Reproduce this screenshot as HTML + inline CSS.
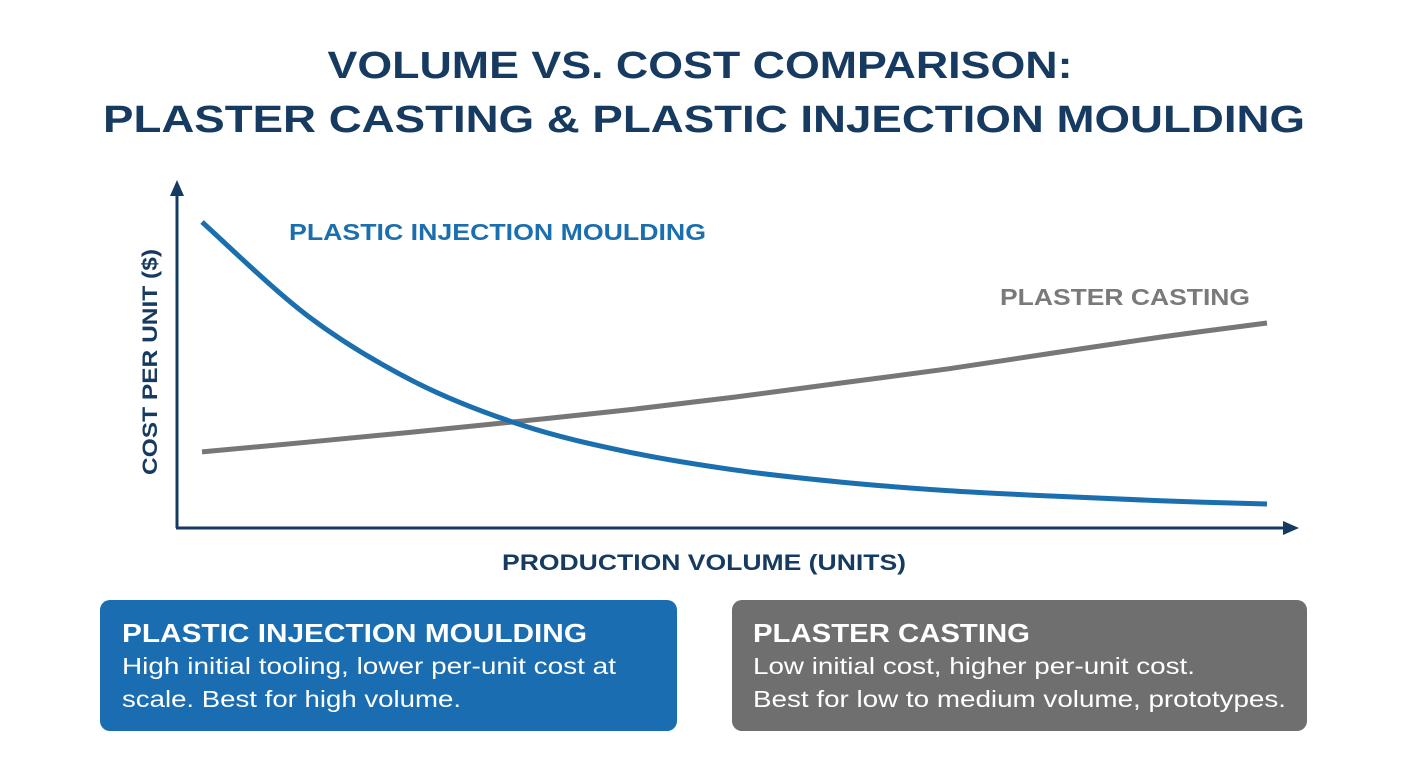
<!DOCTYPE html>
<html><head><meta charset="utf-8"><style>
html,body{margin:0;padding:0;background:#fff;}
svg{display:block;font-family:"Liberation Sans",sans-serif;}
</style></head><body>
<svg id="chart" width="1408" height="768" viewBox="0 0 1408 768">
<text x="700" y="78" text-anchor="middle" font-size="38" font-weight="bold" fill="#173b60" textLength="745" lengthAdjust="spacingAndGlyphs">VOLUME VS. COST COMPARISON:</text>
<text x="704" y="132" text-anchor="middle" font-size="38" font-weight="bold" fill="#173b60" textLength="1202" lengthAdjust="spacingAndGlyphs">PLASTER CASTING &amp; PLASTIC INJECTION MOULDING</text>
<g id="axes">
<line x1="177" y1="528" x2="177" y2="192" stroke="#173b60" stroke-width="3"/>
<polygon points="177,180 170,196 184,196" fill="#173b60"/>
<line x1="176" y1="528" x2="1286" y2="528" stroke="#173b60" stroke-width="3"/>
<polygon points="1299,528 1283,521 1283,535" fill="#173b60"/>
</g>
<text transform="translate(157,362) rotate(-90)" text-anchor="middle" font-size="21" font-weight="bold" fill="#173b60" textLength="226" lengthAdjust="spacingAndGlyphs">COST PER UNIT ($)</text>
<text x="704" y="570" text-anchor="middle" font-size="22" font-weight="bold" fill="#173b60" textLength="404" lengthAdjust="spacingAndGlyphs">PRODUCTION VOLUME (UNITS)</text>
<text x="289" y="240" font-size="23" font-weight="bold" fill="#1b6fae" textLength="417" lengthAdjust="spacingAndGlyphs">PLASTIC INJECTION MOULDING</text>
<text x="1000" y="305" font-size="23" font-weight="bold" fill="#7a7a7a" textLength="250" lengthAdjust="spacingAndGlyphs">PLASTER CASTING</text>
<g id="series"></g>

<rect x="100" y="600" width="577" height="131" rx="10" fill="#1a6db0"/>
<text x="122" y="642" font-size="26" font-weight="bold" fill="#fff" textLength="465" lengthAdjust="spacingAndGlyphs">PLASTIC INJECTION MOULDING</text>
<text x="122" y="674" font-size="23" fill="#fff" textLength="494" lengthAdjust="spacingAndGlyphs">High initial tooling, lower per-unit cost at</text>
<text x="122" y="707" font-size="23" fill="#fff" textLength="339" lengthAdjust="spacingAndGlyphs">scale. Best for high volume.</text>

<rect x="732" y="600" width="575" height="131" rx="10" fill="#6f6f6f"/>
<text x="753" y="642" font-size="26" font-weight="bold" fill="#fff" textLength="277" lengthAdjust="spacingAndGlyphs">PLASTER CASTING</text>
<text x="753" y="674" font-size="23" fill="#fff" textLength="442" lengthAdjust="spacingAndGlyphs">Low initial cost, higher per-unit cost.</text>
<text x="753" y="707" font-size="23" fill="#fff" textLength="533" lengthAdjust="spacingAndGlyphs">Best for low to medium volume, prototypes.</text>
</svg>
<script>
const volumes = [0,1,2,3,4,5,6,7,8,9,10];
const injectionCost = [93.3,64.5,44.5,31.4,23.2,17.7,14.0,11.4,9.7,8.3,7.3];
const plasterCost = [23.2,26.2,29.3,32.6,36.0,39.9,44.2,48.5,53.4,58.2,62.5];

const X0=202, X1=1267, Y0=528, YTOP=200;
function xScale(v){return X0+(v-volumes[0])/(volumes[volumes.length-1]-volumes[0])*(X1-X0);}
function yScale(v){return Y0-v/100*(Y0-YTOP);}
function smoothPath(xs,ys){
  const p=xs.map((x,i)=>[xScale(x),yScale(ys[i])]);
  let d='M'+p[0][0]+','+p[0][1];
  for(let i=0;i<p.length-1;i++){
    const a=p[Math.max(0,i-1)],b=p[i],c=p[i+1],e=p[Math.min(p.length-1,i+2)];
    const c1=[b[0]+(c[0]-a[0])/6,b[1]+(c[1]-a[1])/6];
    const c2=[c[0]-(e[0]-b[0])/6,c[1]-(e[1]-b[1])/6];
    d+=' C'+c1[0]+','+c1[1]+' '+c2[0]+','+c2[1]+' '+c[0]+','+c[1];
  }
  return d;
}
const g=document.getElementById('series');
const ns='http://www.w3.org/2000/svg';
const gp=document.createElementNS(ns,'path');
gp.setAttribute('d',smoothPath(volumes,plasterCost));
gp.setAttribute('fill','none');gp.setAttribute('stroke','#777');gp.setAttribute('stroke-width','5');


g.appendChild(gp);
const bp=document.createElementNS(ns,'path');
bp.setAttribute('d',smoothPath(volumes,injectionCost));
bp.setAttribute('fill','none');bp.setAttribute('stroke','#1b6fae');bp.setAttribute('stroke-width','5');


g.appendChild(bp);
</script>
</body></html>
